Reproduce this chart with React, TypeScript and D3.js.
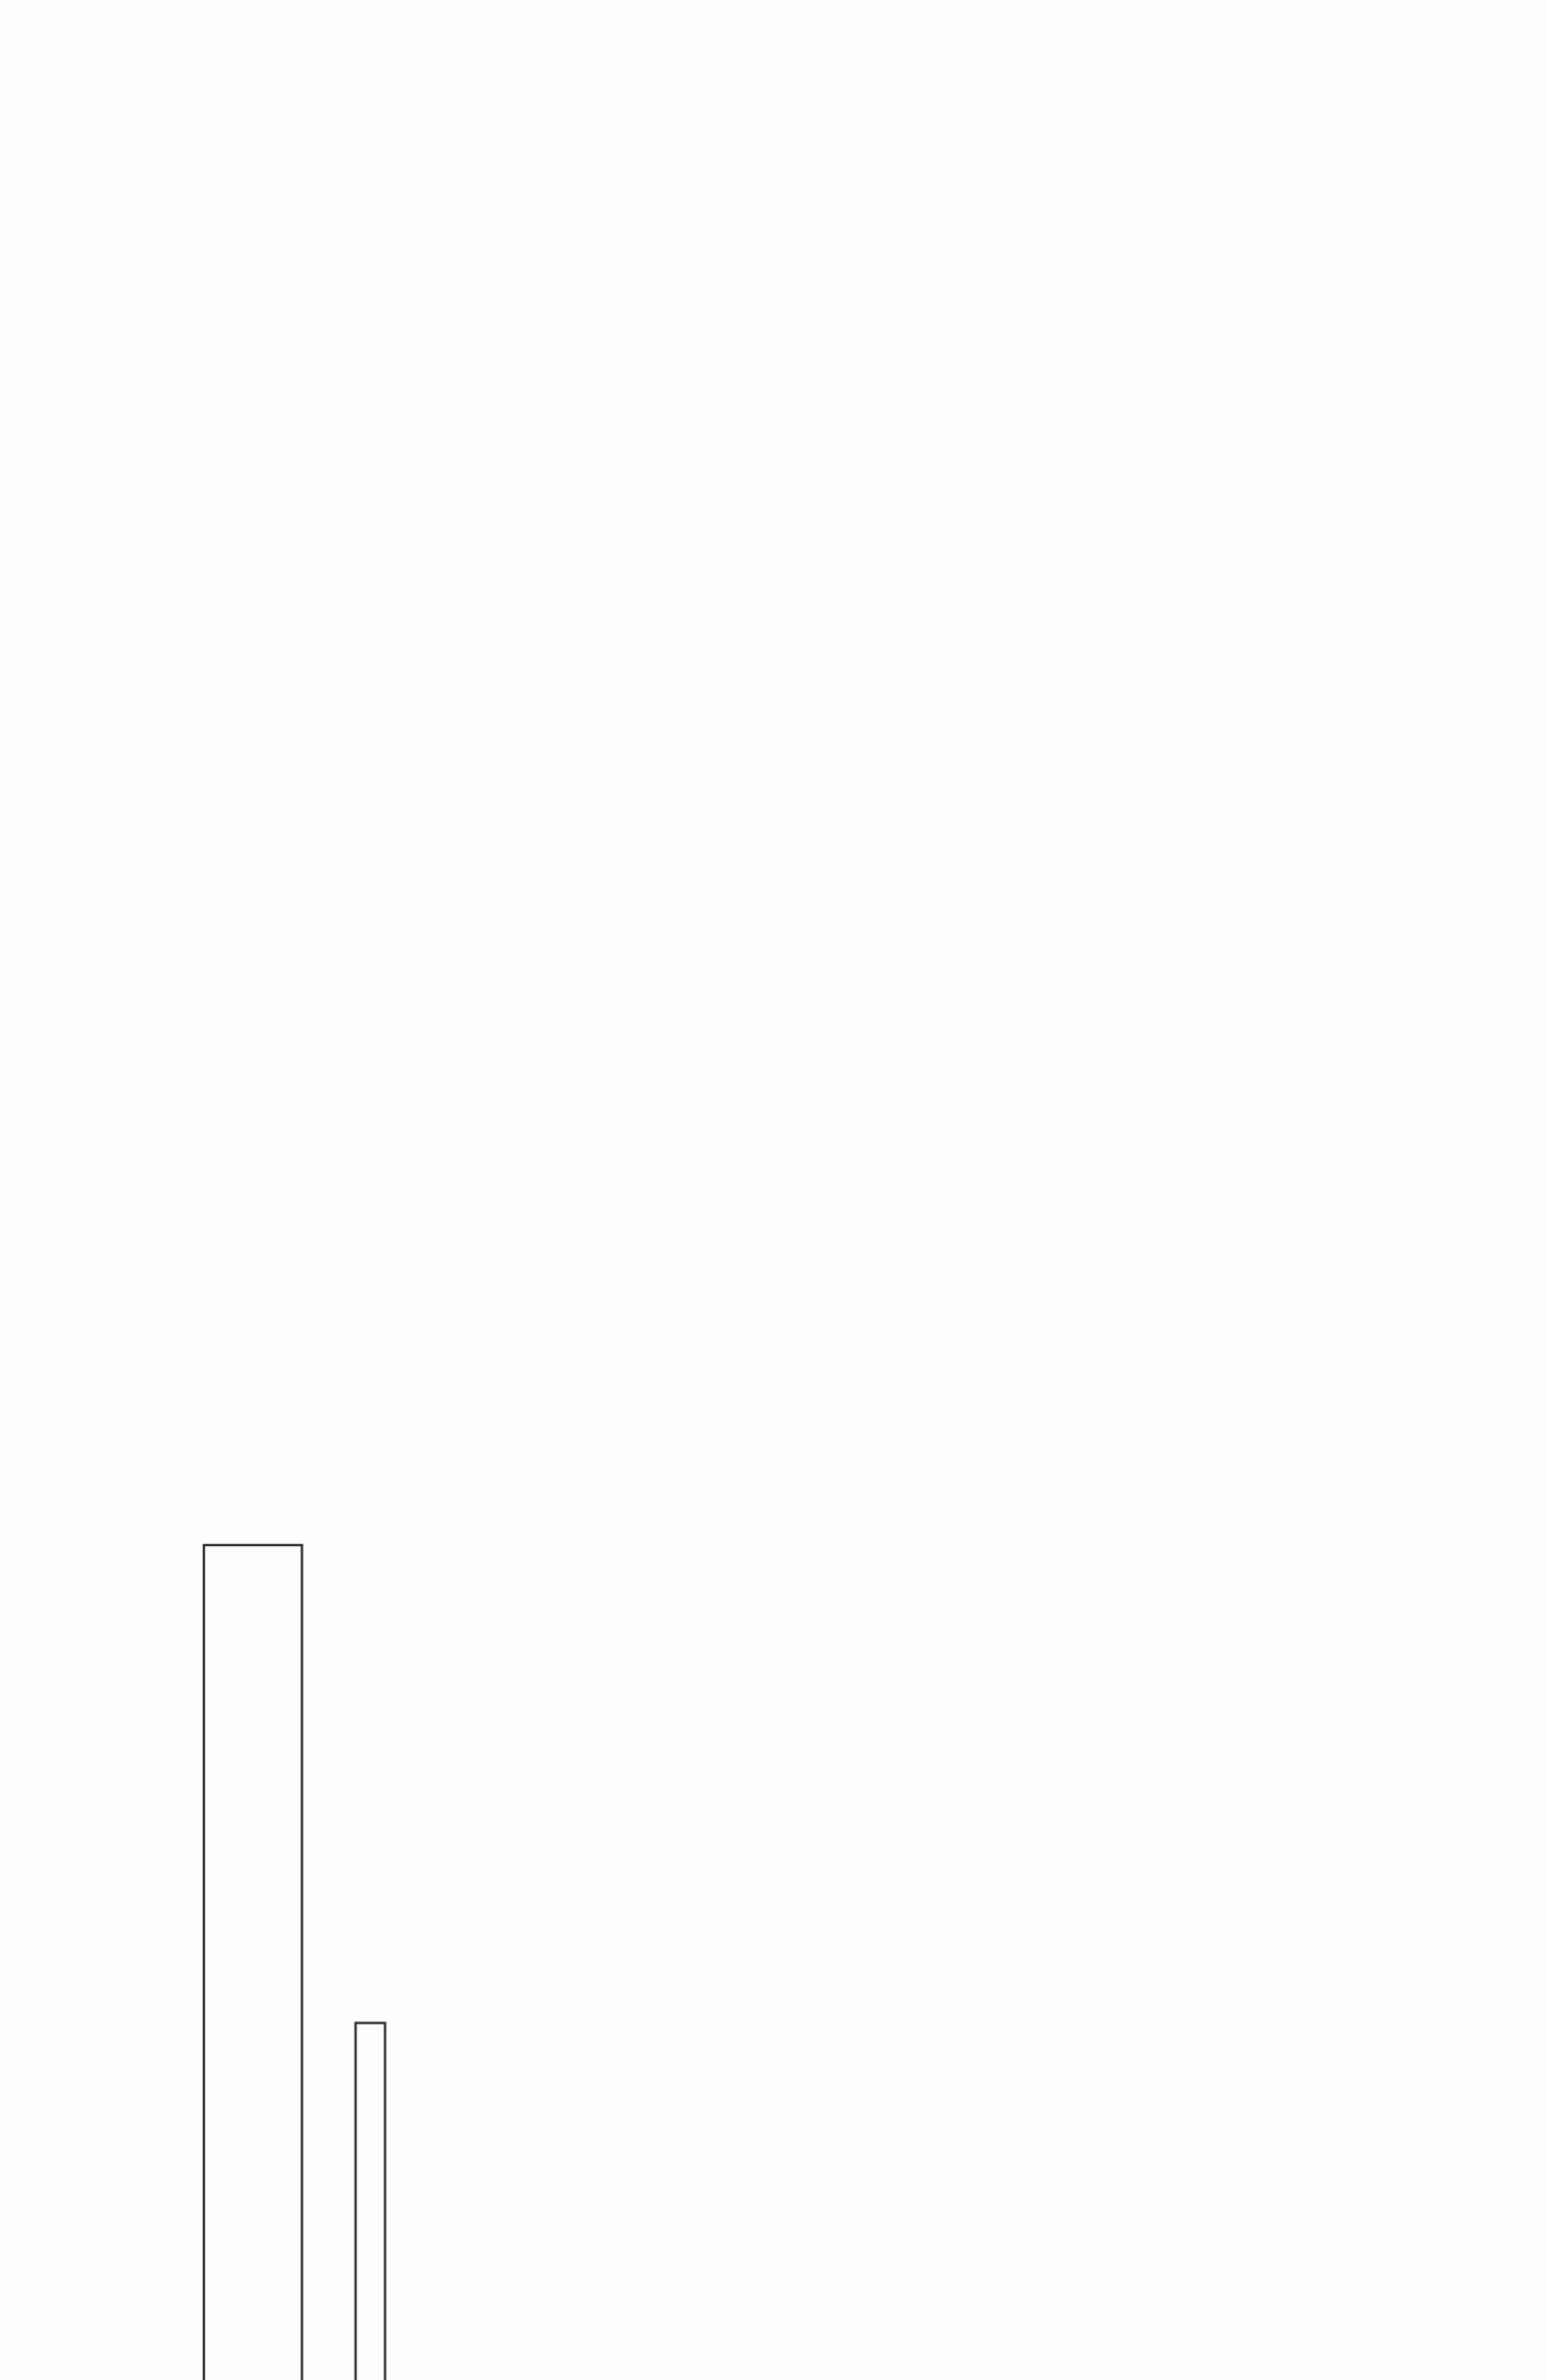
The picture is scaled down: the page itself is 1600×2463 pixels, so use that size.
import React from "react";
import * as d3 from "d3";

// Data: bins (start/end along x axis) and heights
const binStart = [0, 157];
const binEnd = [101.5, 187.5];
const values = [40, 20.1];

const WIDTH = 1600;
const HEIGHT = 2463;

export default function App() {
  const x = d3.scaleLinear().domain([0, 1000]).range([211, 1211]);
  const y = d3.scaleLinear().domain([0, 40]).range([2593, 1599]);

  return (
    <svg
      width={WIDTH}
      height={HEIGHT}
      style={{ position: "absolute", left: 0, top: 0, background: "#fff" }}
    >
      <rect x={0} y={0} width={WIDTH} height={HEIGHT} fill="#fefefe" />
      {values.map((v, i) => (
        <rect
          key={i}
          x={x(binStart[i])}
          y={y(v)}
          width={x(binEnd[i]) - x(binStart[i])}
          height={y(0) - y(v)}
          fill="none"
          stroke="#2f2f2f"
          strokeWidth={2.5}
        />
      ))}
    </svg>
  );
}
